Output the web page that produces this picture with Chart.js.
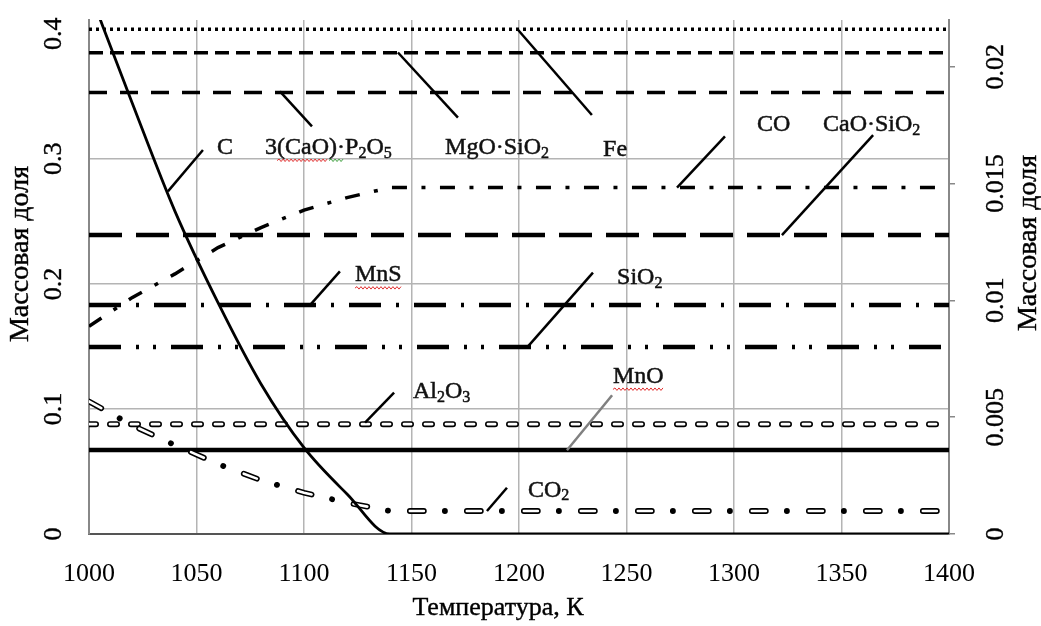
<!DOCTYPE html>
<html>
<head>
<meta charset="utf-8">
<script src="https://cdn.jsdelivr.net/npm/chart.js@4.4.1/dist/chart.umd.min.js"></script>
<style>
body { margin: 0; background: #fff; }
canvas { display: block; }
</style>
</head>
<body>
<canvas id="grafico" width="1041" height="626"></canvas>
<script>
// temperature, K
var temps = [1000, 1020, 1040, 1060, 1080, 1100, 1120, 1140, 1400];
var tempsFlat = [1000, 1400];

// left axis
var carbon = [0.435, 0.345, 0.258, 0.185, 0.120, 0.069, 0.032, 0, 0];
var co = [0.166, 0.189, 0.208, 0.229, 0.245, 0.259, 0.269, 0.277, 0.277];
var co2 = [0.106, 0.087, 0.071, 0.056, 0.043, 0.033, 0.025, 0.0184, 0.0184];

// right axis
var fe = [0.0216, 0.0216];
var mgoSio2 = [0.0206, 0.0206];
var caoP2o5 = [0.0189, 0.0189];
var caoSio2 = [0.0128, 0.0128];
var mns = [0.0098, 0.0098];
var sio2 = [0.0080, 0.0080];
var al2o3 = [0.0047, 0.0047];
var mno = [0.0036, 0.0036];

var xTicks = [1000, 1050, 1100, 1150, 1200, 1250, 1300, 1350, 1400];
var leftTicks = [0, 0.1, 0.2, 0.3, 0.4];
var rightTicks = [0, 0.005, 0.01, 0.015, 0.02];

var xTitle = 'Температура, К';
var yTitle = 'Массовая доля';

// labels: text (_ = subscript), text pos (T, left value), leader from/to, wavy underline ranges
var labels = [
    { t: 'C', at: [1059.5, 0.309], from: [1053, 0.307], to: [1036.7, 0.274] },
    { t: '3(CaO)·P_2O_5', at: [1081.9, 0.309], from: [1103.7, 0.326], to: [1088.8, 0.354], waves: [[1, 5, '#e03030'], [5, 7, '#40a040']] },
    { t: 'MgO·SiO_2', at: [1165.6, 0.309], from: [1171.6, 0.333], to: [1143.7, 0.385] },
    { t: 'Fe', at: [1239.1, 0.307], from: [1233.9, 0.335], to: [1199.1, 0.404] },
    { t: 'CO', at: [1310.7, 0.327], from: [1295.8, 0.318], to: [1273.5, 0.277] },
    { t: 'CaO·SiO_2', at: [1341.4, 0.327], from: [1364.7, 0.319], to: [1322.3, 0.239] },
    { t: 'MnS', at: [1123.7, 0.207], from: [1116.7, 0.210], to: [1102.8, 0.183], waves: [[0, 3, '#e03030']] },
    { t: 'SiO_2', at: [1245.6, 0.205], from: [1234.4, 0.209], to: [1204.2, 0.150] },
    { t: 'Al_2O_3', at: [1150.7, 0.114], from: [1141.9, 0.113], to: [1128.4, 0.089] },
    { t: 'MnO', at: [1243.7, 0.126], from: [1243.3, 0.111], to: [1222.3, 0.067], color: '#808080', waves: [[0, 3, '#e03030']] },
    { t: 'CO_2', at: [1204.2, 0.035], from: [1194.4, 0.037], to: [1185.1, 0.0184] }
];

function punti(xs, ys) {
    return xs.map(function (v, i) { return { x: v, y: ys[i] }; });
}

function serie(dati, axis, width, dash, extra) {
    var d = {
        data: dati,
        yAxisID: axis,
        borderColor: '#000',
        borderWidth: width,
        borderDash: dash,
        pointRadius: 0,
        fill: false
    };
    if (extra) Object.keys(extra).forEach(function (k) { d[k] = extra[k]; });
    return d;
}

function onda(ctx, x1, x2, y, color) {
    ctx.save();
    ctx.strokeStyle = color;
    ctx.lineWidth = 1;
    ctx.beginPath();
    var up = true;
    ctx.moveTo(x1, y);
    for (var x = x1 + 2; x <= x2; x += 2) {
        ctx.lineTo(x, up ? y - 1.5 : y + 1);
        up = !up;
    }
    ctx.stroke();
    ctx.restore();
}

function scriviEtichetta(ctx, testo, px, py, waves) {
    var pos = [];
    var x = px;
    ctx.textBaseline = 'middle';
    ctx.textAlign = 'left';
    ctx.lineWidth = 0.5;
    for (var i = 0; i < testo.length; i++) {
        var ch = testo[i];
        var sub = false;
        if (ch === '_') {
            i++;
            ch = testo[i];
            sub = true;
        }
        ctx.font = sub ? '16px "Liberation Serif"' : '24px "Liberation Serif"';
        pos.push(x);
        ctx.fillText(ch, x, sub ? py + 6 : py);
        ctx.strokeText(ch, x, sub ? py + 6 : py);
        x += ctx.measureText(ch).width;
    }
    pos.push(x);
    if (waves) {
        waves.forEach(function (w) {
            onda(ctx, pos[w[0]], pos[w[1]], py + 13, w[2]);
        });
    }
}

function ruotato(ctx, testo, x, y) {
    ctx.save();
    ctx.translate(x, y);
    ctx.rotate(-Math.PI / 2);
    ctx.fillText(testo, 0, 0);
    ctx.strokeText(testo, 0, 0);
    ctx.restore();
}

var testi = {
    id: 'testi',
    afterDraw: function (chart) {
        var ctx = chart.ctx;
        var sx = chart.scales.x, sy = chart.scales.y, sy1 = chart.scales.y1;
        ctx.save();
        ctx.fillStyle = '#000';
        ctx.strokeStyle = '#000';
        ctx.lineWidth = 0.4;
        ctx.textAlign = 'center';
        ctx.textBaseline = 'middle';
        ctx.font = '26px "Liberation Serif"';
        leftTicks.forEach(function (v) {
            ruotato(ctx, String(v), sy.right - 35, sy.getPixelForValue(v));
        });
        rightTicks.forEach(function (v) {
            ruotato(ctx, String(v), sy1.left + 47, sy1.getPixelForValue(v));
        });
        ctx.font = '28px "Liberation Serif"';
        ruotato(ctx, yTitle, 21, 254);
        ruotato(ctx, yTitle, 1029, 243);
        ctx.font = '26px "Liberation Serif"';
        ctx.fillText(xTitle, 498, 608);
        ctx.strokeText(xTitle, 498, 608);

        labels.forEach(function (l) {
            ctx.strokeStyle = l.color || '#000';
            ctx.lineWidth = 2.5;
            ctx.beginPath();
            ctx.moveTo(sx.getPixelForValue(l.from[0]), sy.getPixelForValue(l.from[1]));
            ctx.lineTo(sx.getPixelForValue(l.to[0]), sy.getPixelForValue(l.to[1]));
            ctx.stroke();
            ctx.fillStyle = '#111';
            ctx.strokeStyle = '#111';
            scriviEtichetta(ctx, l.t, sx.getPixelForValue(l.at[0]), sy.getPixelForValue(l.at[1]), l.waves);
        });
        ctx.restore();
    }
};

// first dataset is drawn on top
var ctx = document.getElementById('grafico').getContext('2d');
var chart = new Chart(ctx, {
    type: 'line',
    data: {
        datasets: [
            serie(punti(temps, carbon), 'y', 2.8, [], { cubicInterpolationMode: 'monotone' }),
            serie(punti(temps, co2), 'y', 2.6, [14, 43], { borderCapStyle: 'round', borderColor: '#fff' }),
            serie(punti(temps, co2), 'y', 5.8, [14, 21, 0.1, 21.9], { borderCapStyle: 'round' }),
            serie(punti(tempsFlat, al2o3), 'y1', 2.8, [7, 14], { borderCapStyle: 'round', borderColor: '#fff' }),
            serie(punti(tempsFlat, al2o3), 'y1', 6, [7, 14], { borderCapStyle: 'round' }),
            serie(punti(tempsFlat, mno), 'y1', 4.5, []),
            serie(punti(tempsFlat, fe), 'y1', 3.5, [3, 4]),
            serie(punti(tempsFlat, mgoSio2), 'y1', 3.5, [14, 7]),
            serie(punti(tempsFlat, caoP2o5), 'y1', 3.5, [18, 13]),
            serie(punti(temps, co), 'y', 3.5, [15, 14.5, 4, 14.5]),
            serie(punti(tempsFlat, caoSio2), 'y1', 4.5, [33, 14]),
            serie(punti(tempsFlat, mns), 'y1', 4.5, [32, 15, 3, 15]),
            serie(punti(tempsFlat, sio2), 'y1', 4.5, [32, 15, 3, 14, 3, 15])
        ]
    },
    options: {
        responsive: false,
        animation: false,
        devicePixelRatio: 1,
        layout: { padding: { top: 20, left: 0, right: 0, bottom: 0 } },
        plugins: {
            legend: { display: false },
            tooltip: { enabled: false }
        },
        scales: {
            x: {
                type: 'linear',
                min: 1000,
                max: 1400,
                afterBuildTicks: function (s) { s.ticks = xTicks.map(function (v) { return { value: v }; }); },
                afterFit: function (s) { s.height = 92; },
                ticks: {
                    color: '#000',
                    padding: 25,
                    maxRotation: 0,
                    font: { family: '"Liberation Serif"', size: 26 },
                    callback: function (v) { return String(v); }
                },
                grid: { color: '#b4b4b4', lineWidth: 1.5, drawTicks: false },
                border: { color: '#555', width: 2 }
            },
            y: {
                type: 'linear',
                position: 'left',
                min: 0,
                max: 0.411,
                afterBuildTicks: function (s) { s.ticks = leftTicks.map(function (v) { return { value: v }; }); },
                afterFit: function (s) { s.width = 89; },
                ticks: { display: false },
                grid: {
                    drawTicks: false,
                    lineWidth: 1.5,
                    color: function (c) {
                        if (!c.tick || c.tick.value === 0 || c.tick.value > 0.35) return 'rgba(0,0,0,0)';
                        return '#b4b4b4';
                    }
                },
                border: { color: '#888', width: 2 }
            },
            y1: {
                type: 'linear',
                position: 'right',
                min: 0,
                max: 0.022,
                afterBuildTicks: function (s) { s.ticks = rightTicks.map(function (v) { return { value: v }; }); },
                afterFit: function (s) { s.width = 92; },
                ticks: { display: false },
                grid: { drawOnChartArea: false, drawTicks: true, tickLength: 6, color: '#888', lineWidth: 1.5 },
                border: { color: '#888', width: 2 }
            }
        }
    },
    plugins: [testi]
});
</script>
</body>
</html>
